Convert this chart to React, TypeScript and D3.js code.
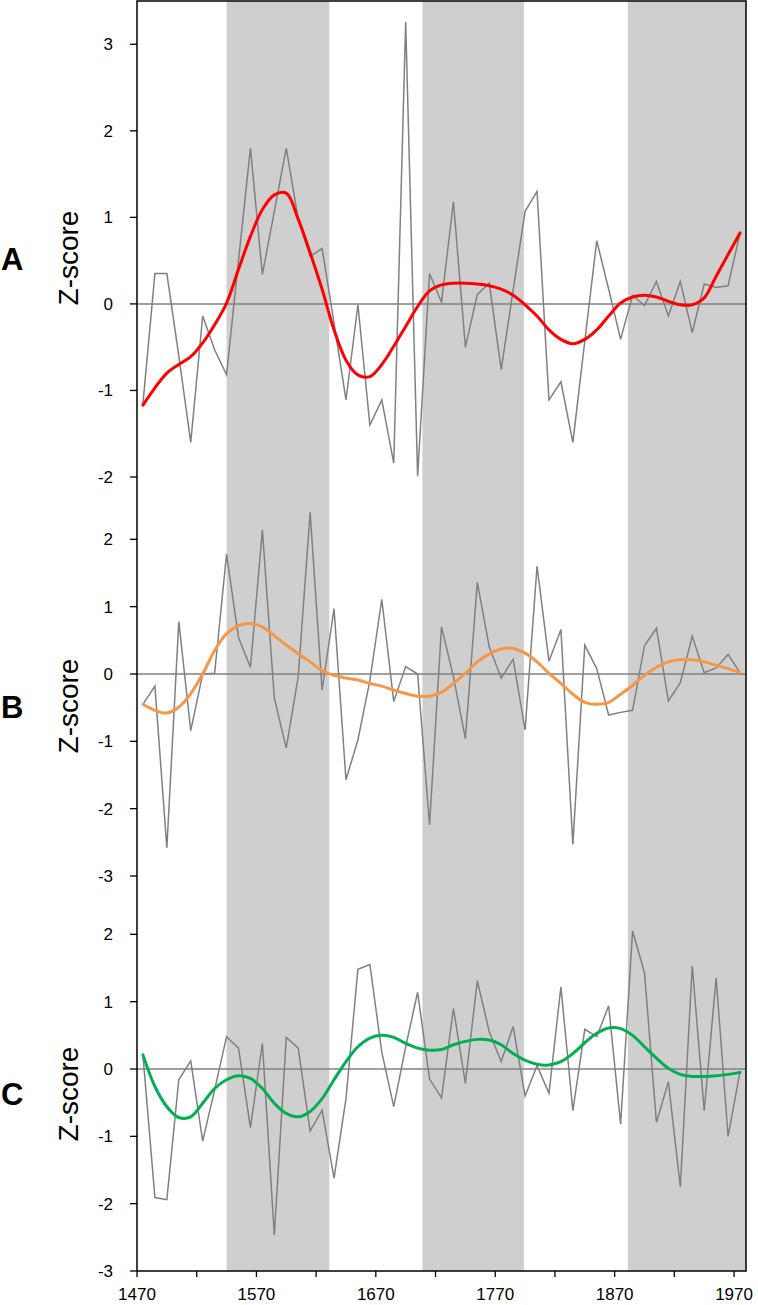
import { useRef, useEffect } from 'react';
import * as d3 from 'd3';

const WIDTH = 758;
const HEIGHT = 1305;

// decade mid-points
const YEARS = [
  1475, 1485, 1495, 1505, 1515, 1525, 1535, 1545, 1555, 1565,
  1575, 1585, 1595, 1605, 1615, 1625, 1635, 1645, 1655, 1665,
  1675, 1685, 1695, 1705, 1715, 1725, 1735, 1745, 1755, 1765,
  1775, 1785, 1795, 1805, 1815, 1825, 1835, 1845, 1855, 1865,
  1875, 1885, 1895, 1905, 1915, 1925, 1935, 1945, 1955, 1965, 1975,
];

const X_TICKS = [1470, 1520, 1570, 1620, 1670, 1720, 1770, 1820, 1870, 1920, 1970];
const X_LABELS = [1470, 1570, 1670, 1770, 1870, 1970];

// shaded periods
const BANDS = [[1545, 1631], [1709, 1794], [1881, 1980]];

const RAW_A = [
  -1.15, 0.35, 0.35, -0.6, -1.6, -0.14, -0.53, -0.82, 0.5, 1.8,
  0.34, 1.07, 1.8, 0.98, 0.55, 0.64, -0.22, -1.11, -0.01, -1.4,
  -1.11, -1.84, 3.26, -1.99, 0.35, 0.02, 1.18, -0.5, 0.11, 0.24,
  -0.76, 0.16, 1.07, 1.3, -1.11, -0.9, -1.6, -0.43, 0.73, 0.17,
  -0.41, 0.1, -0.02, 0.26, -0.14, 0.26, -0.33, 0.23, 0.19, 0.21, 0.82,
];
const SMOOTH_A = [
  -1.17, -0.97, -0.8, -0.7, -0.61, -0.45, -0.24, 0.01, 0.4, 0.78,
  1.09, 1.26, 1.28, 0.98, 0.59, 0.17, -0.3, -0.65, -0.82, -0.84,
  -0.7, -0.49, -0.26, -0.03, 0.15, 0.22, 0.24, 0.24, 0.23, 0.21,
  0.17, 0.1, -0.01, -0.14, -0.3, -0.41, -0.46, -0.41, -0.3, -0.14,
  0.01, 0.08, 0.1, 0.08, 0.03, -0.01, -0.01, 0.07, 0.32, 0.57, 0.82,
];

const RAW_B = [
  -0.45, -0.18, -2.58, 0.78, -0.84, 0.0, 0.01, 1.78, 0.54, 0.1,
  2.14, -0.36, -1.1, -0.04, 2.4, -0.24, 0.97, -1.57, -0.98, -0.1,
  1.11, -0.41, 0.11, 0.0, -2.24, 0.7, -0.04, -0.96, 1.36, 0.4,
  -0.06, 0.22, -0.83, 1.6, 0.19, 0.66, -2.53, 0.43, 0.08, -0.61,
  -0.57, -0.54, 0.42, 0.68, -0.4, -0.13, 0.56, 0.02, 0.09, 0.29, 0.02,
];
const SMOOTH_B = [
  -0.45, -0.54, -0.58, -0.49, -0.29, 0.0, 0.35, 0.6, 0.72, 0.75,
  0.7, 0.57, 0.43, 0.3, 0.18, 0.05, -0.02, -0.06, -0.09, -0.14,
  -0.18, -0.24, -0.29, -0.33, -0.33, -0.27, -0.14, 0.01, 0.18, 0.3,
  0.37, 0.38, 0.31, 0.18, 0.01, -0.14, -0.3, -0.42, -0.45, -0.42,
  -0.3, -0.17, -0.02, 0.1, 0.18, 0.21, 0.21, 0.18, 0.13, 0.08, 0.02,
];

const RAW_C = [
  0.2, -1.91, -1.94, -0.16, 0.12, -1.07, -0.31, 0.48, 0.31, -0.87,
  0.38, -2.47, 0.47, 0.31, -0.92, -0.61, -1.62, -0.44, 1.48, 1.55,
  0.25, -0.56, 0.33, 1.14, -0.15, -0.43, 0.9, -0.21, 1.31, 0.55,
  0.11, 0.63, -0.4, 0.05, -0.36, 1.22, -0.62, 0.59, 0.48, 0.94,
  -0.82, 2.05, 1.43, -0.79, -0.19, -1.75, 1.53, -0.62, 1.35, -1.0, -0.04,
];
const SMOOTH_C = [
  0.21, -0.26, -0.56, -0.72, -0.71, -0.51, -0.29, -0.16, -0.1, -0.14,
  -0.29, -0.51, -0.66, -0.71, -0.63, -0.44, -0.16, 0.11, 0.33, 0.46,
  0.5, 0.47, 0.38, 0.31, 0.28, 0.29, 0.36, 0.41, 0.44, 0.43,
  0.36, 0.23, 0.13, 0.07, 0.06, 0.11, 0.23, 0.39, 0.53, 0.61,
  0.6, 0.5, 0.33, 0.16, 0.01, -0.08, -0.11, -0.11, -0.1, -0.08, -0.05,
];

const TICKS_A = [-2, -1, 0, 1, 2, 3];
const TICKS_BC = [-3, -2, -1, 0, 1, 2];

const FONT = 'Liberation Sans, Arial, sans-serif';

export default function App() {
  const svgRef = useRef(null);

  useEffect(() => {
    const svg = d3.select(svgRef.current);
    svg.selectAll('*').remove();

    const left = 137;
    const right = 746;
    const top = 1;
    const bottom = 1271;

    const x = d3.scaleLinear().domain([1470, 1980]).range([left, right]);

    const panels = [
      { label: 'A', raw: RAW_A, smooth: SMOOTH_A, color: '#ff0000', domain: [-2, 3.5], range: [477, 1], ticks: TICKS_A, letterY: 270, zY: 258 },
      { label: 'B', raw: RAW_B, smooth: SMOOTH_B, color: '#f79646', domain: [-3, 3], range: [876, 472], ticks: TICKS_BC, letterY: 718, zY: 706 },
      { label: 'C', raw: RAW_C, smooth: SMOOTH_C, color: '#00b050', domain: [-3, 3], range: [1271, 867], ticks: TICKS_BC, letterY: 1105, zY: 1094 },
    ];

    // grey bands
    svg.append('g')
      .selectAll('rect').data(BANDS).join('rect')
      .attr('x', d => x(d[0]))
      .attr('width', d => Math.min(x(d[1]), right) - x(d[0]))
      .attr('y', top)
      .attr('height', bottom - top)
      .attr('fill', '#cfcfcf');

    panels.forEach((p) => {
      const y = d3.scaleLinear().domain(p.domain).range(p.range);
      const g = svg.append('g');

      // zero line
      g.append('line')
        .attr('x1', left).attr('x2', right)
        .attr('y1', y(0)).attr('y2', y(0))
        .attr('stroke', '#808080').attr('stroke-width', 1.5);

      const line = d3.line()
        .x((d, i) => x(YEARS[i]))
        .y(d => y(d));

      g.append('path')
        .datum(p.raw)
        .attr('d', line)
        .attr('fill', 'none')
        .attr('stroke', '#808080')
        .attr('stroke-width', 1.5)
        .attr('stroke-linejoin', 'miter');

      g.append('path')
        .datum(p.smooth)
        .attr('d', line.curve(d3.curveCatmullRom.alpha(0.5)))
        .attr('fill', 'none')
        .attr('stroke', p.color)
        .attr('stroke-width', 3)
        .attr('stroke-linecap', 'round');

      // y ticks
      g.selectAll('.ytick').data(p.ticks).join('line')
        .attr('x1', left - 7).attr('x2', left)
        .attr('y1', d => y(d)).attr('y2', d => y(d))
        .attr('stroke', '#000').attr('stroke-width', 1.3);

      g.selectAll('.ylab').data(p.ticks).join('text')
        .attr('x', 113)
        .attr('y', d => y(d))
        .attr('dy', '0.35em')
        .attr('text-anchor', 'end')
        .attr('font-family', FONT)
        .attr('font-size', 17)
        .attr('fill', '#000')
        .text(d => d);

      // panel letter
      g.append('text')
        .attr('x', 1).attr('y', p.letterY)
        .attr('font-family', FONT)
        .attr('font-weight', 700)
        .attr('font-size', 31)
        .attr('fill', '#000')
        .text(p.label);

      g.append('text')
        .attr('transform', `translate(78,${p.zY}) rotate(-90)`)
        .attr('text-anchor', 'middle')
        .attr('font-family', FONT)
        .attr('font-size', 28)
        .attr('fill', '#000')
        .text('Z-score');
    });

    // frame
    svg.append('path')
      .attr('d', `M${left},${bottom}V${top}H${right}V${bottom}H${left}`)
      .attr('fill', 'none')
      .attr('stroke', '#000')
      .attr('stroke-width', 1.5);

    // x axis ticks + labels
    svg.append('g')
      .selectAll('line').data(X_TICKS).join('line')
      .attr('x1', d => x(d)).attr('x2', d => x(d))
      .attr('y1', bottom).attr('y2', bottom + 6)
      .attr('stroke', '#000').attr('stroke-width', 1.3);

    svg.append('g')
      .selectAll('text').data(X_LABELS).join('text')
      .attr('x', d => x(d))
      .attr('y', 1300)
      .attr('text-anchor', 'middle')
      .attr('font-family', FONT)
      .attr('font-size', 17)
      .attr('fill', '#000')
      .text(d => d);
  }, []);

  return (
    <svg
      ref={svgRef}
      width={WIDTH}
      height={HEIGHT}
      style={{ position: 'absolute', left: 0, top: 0, background: '#fff' }}
    />
  );
}
